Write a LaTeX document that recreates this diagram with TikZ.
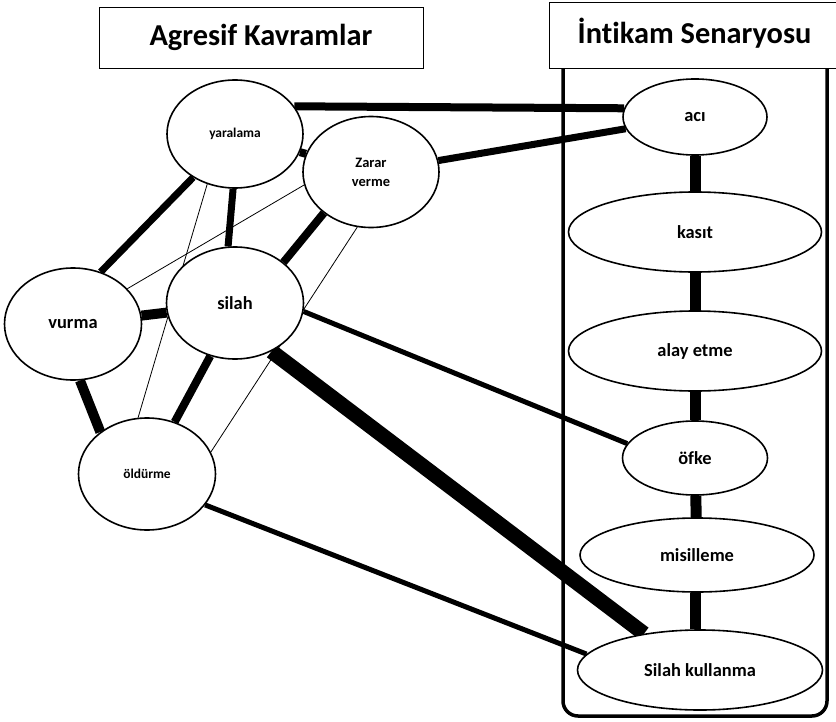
\documentclass[tikz,border=0pt]{standalone}
\usepackage{fontspec}
\setmainfont{Carlito}[Ligatures=NoCommon]
\usetikzlibrary{shapes.geometric}
\pgfdeclarelayer{bg}
\pgfsetlayers{bg,main}
\begin{document}
\begin{tikzpicture}[x=1bp,y=-1bp,
  concept/.style={ellipse,draw,line width=1.6bp,fill=white,inner sep=0pt,align=center},
  titlefont/.style={font=\fontsize{30.5}{32}\selectfont\bfseries},
  big/.style={font=\fontsize{18.5}{19}\selectfont\bfseries},
  mid/.style={font=\fontsize{14.5}{19}\selectfont\bfseries},
  small/.style={font=\fontsize{13.5}{16}\selectfont\bfseries},
  thin/.style={line width=0.8bp},
]
\useasboundingbox (0,0) rectangle (836,722);
% left concepts
\node[concept,small,minimum width=136bp,minimum height=108bp] (yar) at (235,134) {yaralama};
\node[concept,mid,minimum width=136bp,minimum height=111bp] (zar) at (371,172) {Zarar\\verme};
\node[concept,big,minimum width=137bp,minimum height=112bp] (sil) at (235,303) {silah};
\node[concept,big,minimum width=137bp,minimum height=112bp] (vur) at (73,324) {vurma};
\node[concept,small,minimum width=137bp,minimum height=112bp] (old) at (147,474) {öldürme};
% container
\draw[line width=3.5bp,rounded corners=15bp] (563,66) -- (563,716) -- (827,716) -- (827,66);
% right concepts
\node[concept,big,minimum width=144bp,minimum height=76bp] (aci) at (695,117) {acı};
\node[concept,big,minimum width=253bp,minimum height=80bp] (kas) at (695,232) {kasıt};
\node[concept,big,minimum width=253bp,minimum height=80bp] (alay) at (695,351) {alay etme};
\node[concept,big,minimum width=145bp,minimum height=74bp] (ofke) at (695,458) {öfke};
\node[concept,big,minimum width=234bp,minimum height=74bp] (mis) at (697,555) {misilleme};
\node[concept,big,minimum width=245bp,minimum height=80bp] (silk) at (700,670) {Silah kullanma};
% titles
\node[draw,line width=0.9bp,minimum width=324bp,minimum height=61bp,inner sep=0pt,titlefont] (t1) at (261,37.5) {Agresif Kavramlar};
\draw[line width=0.9bp,fill=white] (549,2) rectangle (845,68);
\node[titlefont,inner sep=0pt] (t2) at (694.5,33) {İntikam Senaryosu};
% edges
\begin{pgfonlayer}{bg}
\draw[line width=8bp] (yar.25) -- (aci.173);
\draw[line width=7bp] (zar) -- (aci);
\draw[line width=8bp] (yar) -- (zar);
\draw[line width=7bp] (yar.-134) -- (vur.62);
\draw[line width=7bp] (yar.-92) -- (sil.97);
\draw[thin] (yar.-119) -- (old.99);
\draw[thin] (zar.-169) -- (vur.33);
\draw[line width=8bp] (zar.-139) -- (sil.40);
\draw[thin] (zar.-104) -- (old.19);
\draw[line width=10bp] (vur.7) -- (sil.-172);
\draw[line width=10bp] (vur.-83) -- (old.138);
\draw[line width=8bp] (sil.-115) -- (old.62);
\draw[line width=5bp] (sil.-7) -- (ofke.168);
\draw[line width=15bp] (sil.-53) -- (silk.147);
\draw[line width=5bp] (old.-28) -- (silk.172);
\draw[line width=11bp] (aci) -- (kas);
\draw[line width=11bp] (kas) -- (alay);
\draw[line width=11bp] (alay) -- (ofke);
\draw[line width=11bp] (ofke) -- (mis);
\draw[line width=11bp] (mis.south -| ofke) -- (silk.north -| ofke);
\end{pgfonlayer}
\end{tikzpicture}
\end{document}
